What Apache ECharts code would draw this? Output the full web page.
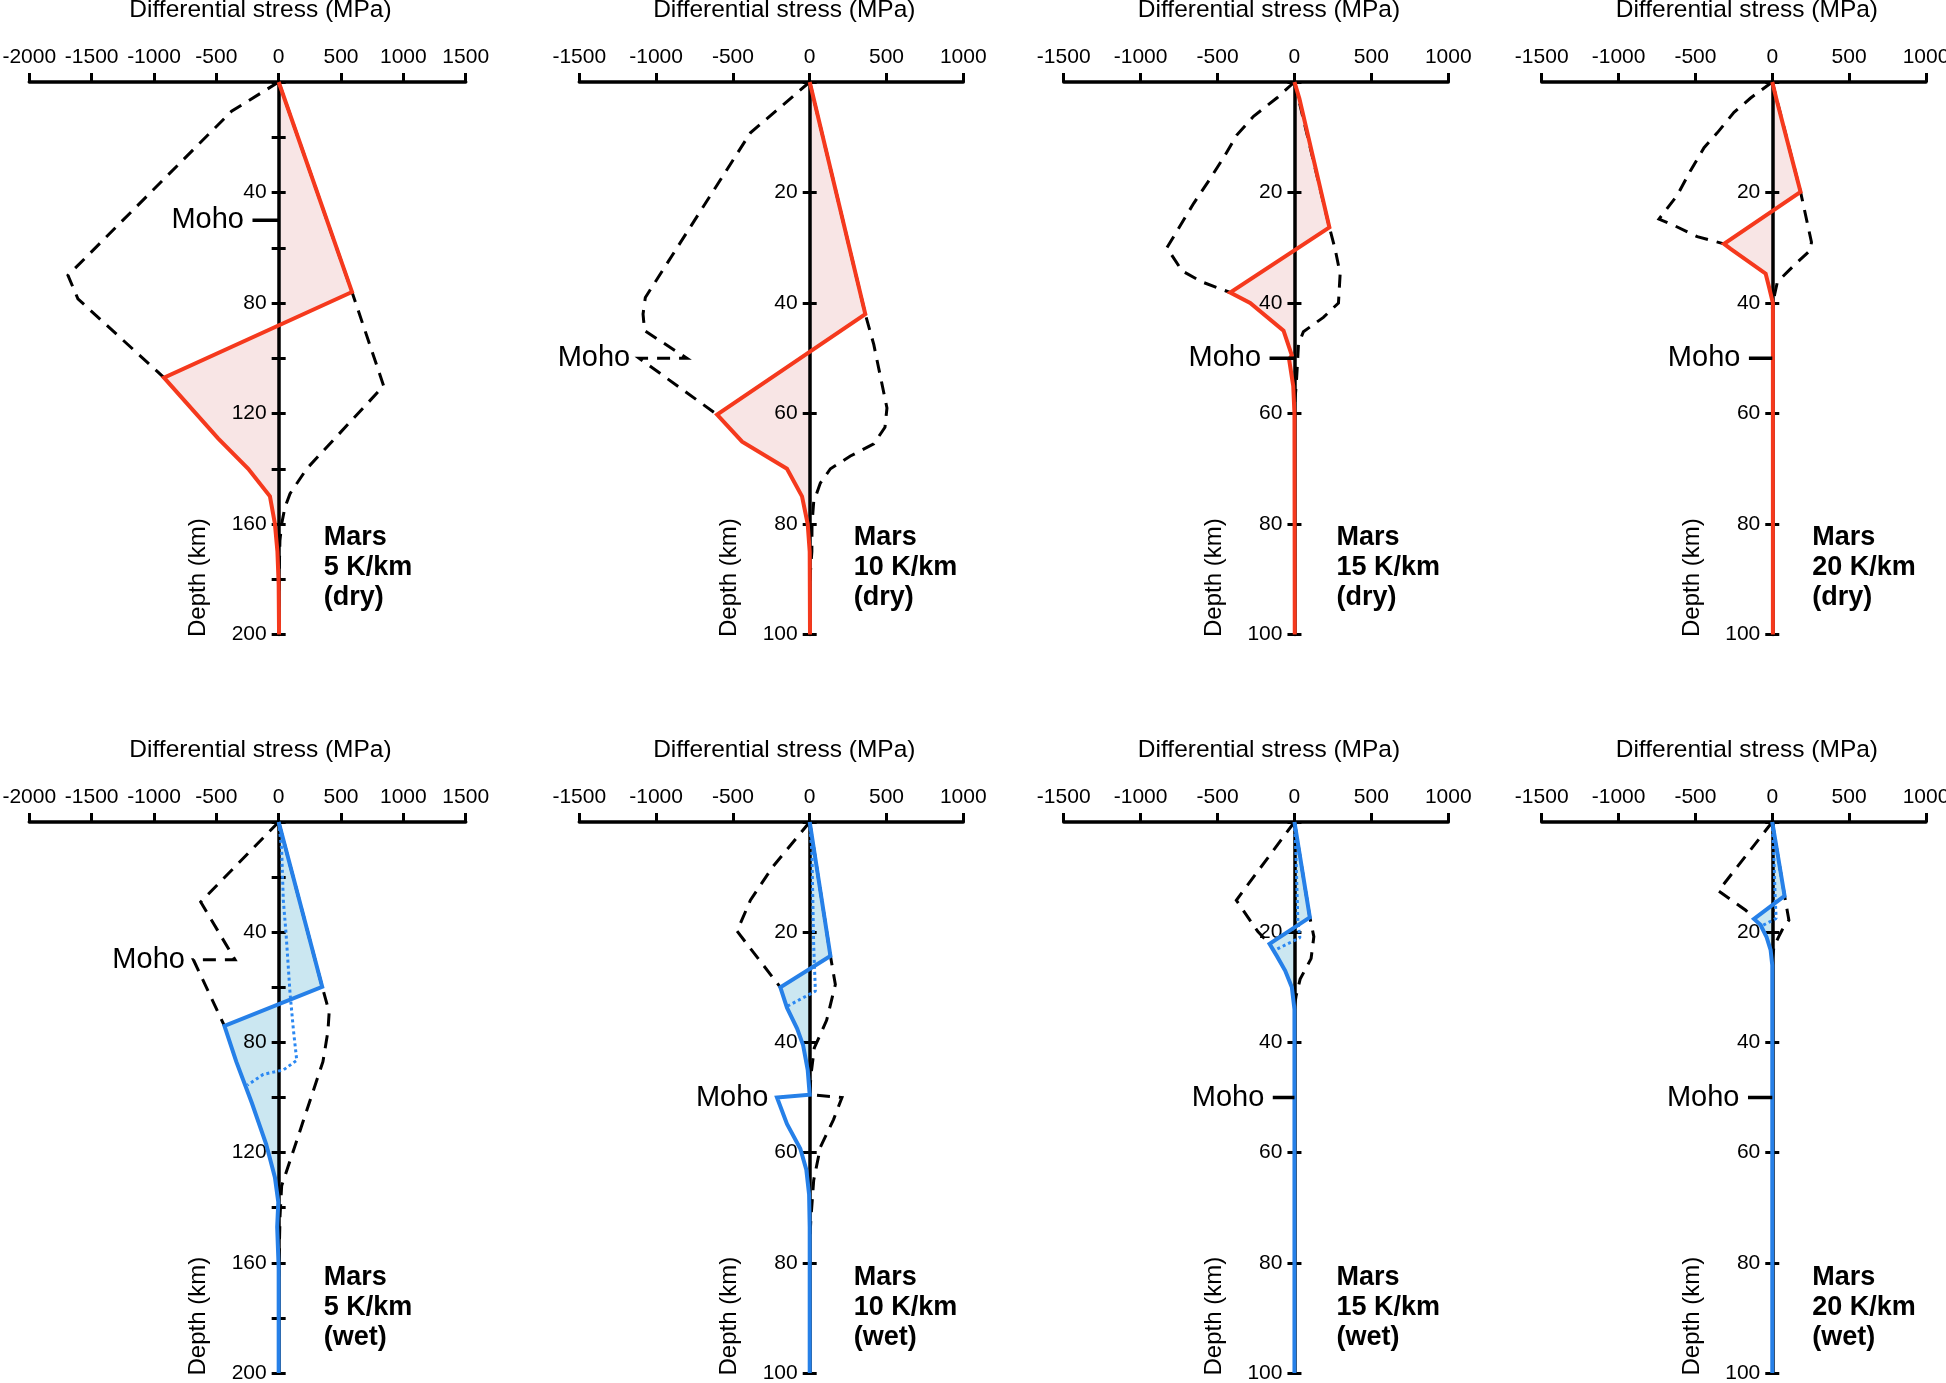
<!DOCTYPE html>
<html><head><meta charset="utf-8">
<script src="https://cdn.jsdelivr.net/npm/echarts@6/dist/echarts.min.js"></script>
<style>html,body{margin:0;padding:0;background:#fff}#c{width:1946px;height:1383px}</style>
</head><body><div id="c"></div>
<script>
// ---------------- text ----------------
const xTitle = 'Differential stress (MPa)';
const yTitle = 'Depth (km)';
const mohoText = 'Moho';
const planet = 'Mars';
const gradients = ['5 K/km', '10 K/km', '15 K/km', '20 K/km'];
const conditions = ['(dry)', '(wet)'];

// ---------------- axis ranges ----------------
const stressWide = [-2000, 1500];
const stressNarrow = [-1500, 1000];
const depthDeep = 200;
const depthShallow = 100;
const stressTickStep = 500;
const depthTickStep = 20;
const mohoDepth = 50;

// ---------------- data: [stress MPa, depth km] ----------------
// dry (top row)
const dry5Solid = [[0,0],[588,76],[-920,107],[-486,129],[-244,140],[-70,150],[-30,160],[-10,170],[0,182],[3,200]];
const dry5EnvL  = [[0,0],[-378,10.6],[-1690,70],[-1610,78.5],[-920,107]];
const dry5EnvR  = [[0,0],[588,76],[842,110],[225,140],[91,149],[50,154],[24,160],[10,166],[3,180],[0,190]];

const dry10Solid = [[0,0],[362,42],[-603,60.2],[-440,65.1],[-148,70],[-50,75],[-13,80],[0,85],[2,100]];
const dry10EnvL  = [[0,0],[-386,9.2],[-1070,39],[-1085,42],[-1075,45],[-800,50],[-1110,50],[-603,60.2]];
const dry10EnvR  = [[0,0],[362,42],[417,47.5],[503,59],[490,62.5],[417,65.5],[265,67.7],[135,70],[69,72.6],[26,76],[15,80],[14,85],[4,89],[0,92]];

const dry15Solid = [[0,0],[32,3],[227,26.3],[-418,38.1],[-288,40],[-71,45],[-17,49.5],[-35,50.2],[-8,55],[0,60],[2,100]];
const dry15EnvL  = [[0,0],[-115,2.9],[-266,6.2],[-375,9.6],[-461,13.7],[-548,17.5],[-656,22],[-829,30],[-730,34.2],[-600,36.2],[-418,38.1]];
const dry15EnvR  = [[0,0],[227,26.3],[264,30.2],[297,34.7],[286,40],[188,42.6],[58,45.2],[26,47.5],[19,51.2],[11,55],[4,57.2],[0,59]];

const dry20Solid = [[0,0],[28,3.2],[184,19.9],[-314,29.3],[-271,30.2],[-43,34.7],[-22,37],[4,40],[4,100]];
const dry20EnvL  = [[0,0],[-141,2.9],[-249,5.5],[-358,9.2],[-444,11.9],[-531,16],[-618,20.5],[-737,24.8],[-629,26.1],[-488,28],[-314,29.3]];
const dry20EnvR  = [[0,0],[184,19.9],[255,29],[245,30.5],[141,33.2],[33,36.2],[15,38.5],[0,41]];

// wet (bottom row)
const wet5Solid  = [[0,0],[349,59.8],[-435,74],[-340,87],[-215,102],[-100,117],[-30,129],[-3,138],[-12,147],[0,162],[0,200]];
const wet5Dotted = [[0,0],[24,10],[37,28.3],[59,40.4],[91,62],[118,75.4],[145,86.5],[38,90],[-123,91.6],[-250,95.5]];
const wet5EnvL   = [[0,0],[-625,29],[-350,50],[-684,50],[-435,74]];
const wet5EnvR   = [[0,0],[349,59.8],[405,69],[395,76],[355,87],[91,123],[24,132],[11,143],[5,155],[0,165]];

const wet10Solid  = [[0,0],[135,24.3],[-191,30],[-148,33.7],[-82,37.5],[-43,40.5],[-13,45],[0,49.5],[-213,50],[-148,54.8],[-61,59.3],[-22,63.1],[-4,67.6],[0,73.6],[0,100]];
const wet10Dotted = [[0,0],[15,6],[26,22.4],[37,30.7],[-150,33.5]];
const wet10EnvL   = [[0,0],[-240,8.1],[-386,14.2],[-473,19.8],[-191,30]];
const wet10EnvR   = [[0,0],[135,24.3],[167,29.5],[110,36],[30,41],[8,46],[0,49.5],[210,50],[155,54],[70,59],[26,65],[8,72],[0,76]];
const wet10FillEnd = 49.5;

const wet15Solid  = [[0,0],[100,17.3],[-162,22.1],[-115,24.3],[-60,27],[-17,30],[0,34],[0,100]];
const wet15Dotted = [[0,0],[10,6],[22,17.8],[35,21],[-130,23.3]];
const wet15EnvL   = [[0,0],[-378,14.2],[-238,19.9],[-162,22.1]];
const wet15EnvR   = [[0,0],[100,17.3],[126,20.8],[108,24.8],[37,28.5],[11,31.5],[0,33.5]];

const wet20Solid  = [[0,0],[80,13.4],[-119,17.6],[-76,18.7],[-37,20.9],[-11,23.2],[0,26],[0,100]];
const wet20Dotted = [[0,0],[10,6],[18,13],[25,17.5],[-70,18.9]];
const wet20EnvL   = [[0,0],[-350,12.5],[-173,16],[-119,17.6]];
const wet20EnvR   = [[0,0],[80,13.4],[108,17.8],[64,19.6],[42,20.8],[11,22.6],[0,25]];

// Moho marks: tick start stress (null = no tick) and label anchor stress
const mohoTickStart = [-210, null, -162, -152, null, null, -141, -158];
const mohoLabelAt   = [-210, -1113, -162, -152, -684, -213, -141, -158];

// ---------------- styling / layout ----------------
const FONT = "'Liberation Sans', Arial, Helvetica, sans-serif";
const RED = '#f5391d', PINK = '#f8e5e5', BLUE = '#2680e8', LBLUE = '#cbe7f1', BLUE_DOT = '#2b88f2';
const cols = [[29.3, 436.4], [579.3, 384], [1063.7, 384.6], [1541.7, 384.3]];
const rows = [[82, 552.5], [822, 551]];
const marsOffset = [45, 44, 42, 40];

const panels = [
  {solid: dry5Solid,  envL: dry5EnvL,  envR: dry5EnvR},
  {solid: dry10Solid, envL: dry10EnvL, envR: dry10EnvR},
  {solid: dry15Solid, envL: dry15EnvL, envR: dry15EnvR},
  {solid: dry20Solid, envL: dry20EnvL, envR: dry20EnvR},
  {solid: wet5Solid,  envL: wet5EnvL,  envR: wet5EnvR,  dotted: wet5Dotted},
  {solid: wet10Solid, envL: wet10EnvL, envR: wet10EnvR, dotted: wet10Dotted, fillEnd: wet10FillEnd},
  {solid: wet15Solid, envL: wet15EnvL, envR: wet15EnvR, dotted: wet15Dotted},
  {solid: wet20Solid, envL: wet20EnvL, envR: wet20EnvR, dotted: wet20Dotted}
];

const grid = [], xAxis = [], yAxis = [], series = [], graphic = [];

panels.forEach((p, i) => {
  const r = Math.floor(i / 4), c = i % 4;
  const wet = r === 1;
  const xr = c === 0 ? stressWide : stressNarrow;
  const yMax = c === 0 ? depthDeep : depthShallow;
  const left = cols[c][0], width = cols[c][1], top = rows[r][0], height = rows[r][1];
  const zeroPx = left + (0 - xr[0]) / (xr[1] - xr[0]) * width;
  const yOffset = -(zeroPx - left);

  grid.push({left, top, width, height, containLabel: false, outerBoundsMode: 'none'});

  xAxis.push({
    gridIndex: i, type: 'value', position: 'top', min: xr[0], max: xr[1], interval: stressTickStep, z: 2,
    axisLine: {show: true, onZero: false, lineStyle: {color: '#000', width: 3.5}},
    axisTick: {show: true, length: 9, lineStyle: {color: '#000', width: 3}},
    axisLabel: {show: true, fontSize: 21, color: '#000', fontFamily: FONT, margin: 14,
      showMinLabel: true, showMaxLabel: true, formatter: v => String(v)},
    splitLine: {show: false}
  });

  const labStep = c === 0 ? 40 : 20;
  const yCommon = {gridIndex: i, type: 'value', inverse: true, min: 0, max: yMax, interval: depthTickStep, z: 2,
    position: 'left', offset: yOffset, splitLine: {show: false}};
  yAxis.push(Object.assign({}, yCommon, {
    axisLine: {show: true, onZero: false, lineStyle: {color: '#000', width: 3.5}},
    axisTick: {show: true, length: 7, lineStyle: {color: '#000', width: 3}},
    axisLabel: {show: true, fontSize: 21, color: '#000', fontFamily: FONT, margin: 12,
      showMinLabel: true, showMaxLabel: true,
      formatter: v => (v > 0 && v % labStep === 0) ? String(v) : ''}
  }));
  yAxis.push(Object.assign({}, yCommon, {
    axisLine: {show: false, onZero: false},
    axisTick: {show: true, inside: true, length: 7, lineStyle: {color: '#000', width: 3}},
    axisLabel: {show: false}
  }));

  const yi = 2 * i;
  const lineColor = wet ? BLUE : RED;
  const fillColor = wet ? LBLUE : PINK;
  const fillEnd = p.fillEnd != null ? p.fillEnd : Infinity;
  const fillPts = p.solid.filter(d => d[1] <= fillEnd);

  series.push({
    type: 'custom', xAxisIndex: i, yAxisIndex: yi, z: 1, silent: true, clip: false,
    data: [[0, 0]],
    renderItem: (params, api) => {
      const pts = [[0, fillPts[0][1]]].concat(fillPts, [[0, fillPts[fillPts.length - 1][1]]]).map(d => api.coord(d));
      return {type: 'polygon', shape: {points: pts}, style: {fill: fillColor}};
    }
  });

  const lineBase = {type: 'line', xAxisIndex: i, yAxisIndex: yi, symbol: 'none', showSymbol: false,
    clip: false, silent: true, animation: false};
  [p.envL, p.envR].forEach(env => {
    series.push(Object.assign({}, lineBase, {z: 3, data: env,
      lineStyle: {color: '#000', width: 3, type: [13, 9], cap: 'butt', join: 'miter'}}));
  });
  if (p.dotted) {
    series.push(Object.assign({}, lineBase, {z: 4, data: p.dotted,
      lineStyle: {color: BLUE_DOT, width: 3, type: [3, 3], cap: 'butt'}}));
  }
  series.push(Object.assign({}, lineBase, {z: 5, data: p.solid,
    lineStyle: {color: lineColor, width: 4, type: 'solid', join: 'miter', miterLimit: 4}}));

  if (mohoTickStart[i] != null) {
    series.push(Object.assign({}, lineBase, {z: 5, data: [[mohoTickStart[i], mohoDepth], [0, mohoDepth]],
      lineStyle: {color: '#000', width: 3.5}}));
  }
  series.push({
    type: 'scatter', xAxisIndex: i, yAxisIndex: yi, z: 6, silent: true, symbolSize: 1,
    itemStyle: {color: 'rgba(0,0,0,0)'}, data: [[mohoLabelAt[i], mohoDepth]],
    label: {show: true, position: 'left', distance: 8, formatter: mohoText,
      fontSize: 29, color: '#000', fontFamily: FONT, opacity: 1}
  });

  // annotations
  graphic.push({type: 'text', x: left + width / 2 + 13, y: top - 72, silent: true,
    style: {text: xTitle, fontSize: 24.5, fontFamily: FONT, fill: '#000', align: 'center', verticalAlign: 'middle'}});
  graphic.push({type: 'text', x: zeroPx - 80, y: top + height + 2.5, rotation: Math.PI / 2, silent: true,
    style: {text: yTitle, fontSize: 24, fontFamily: FONT, fill: '#000', align: 'left', verticalAlign: 'middle'}});
  graphic.push({type: 'text', x: zeroPx + marsOffset[c], y: top + 441, silent: true,
    style: {text: planet + '\n' + gradients[c] + '\n' + conditions[r], fontSize: 27, fontWeight: 'bold',
      lineHeight: 30, fontFamily: FONT, fill: '#000', align: 'left', verticalAlign: 'top'}});
});

const chart = echarts.init(document.getElementById('c'), null, {renderer: 'canvas'});
chart.setOption({
  animation: false,
  backgroundColor: '#fff',
  textStyle: {fontFamily: FONT},
  grid, xAxis, yAxis, series, graphic
});
</script>
</body></html>
